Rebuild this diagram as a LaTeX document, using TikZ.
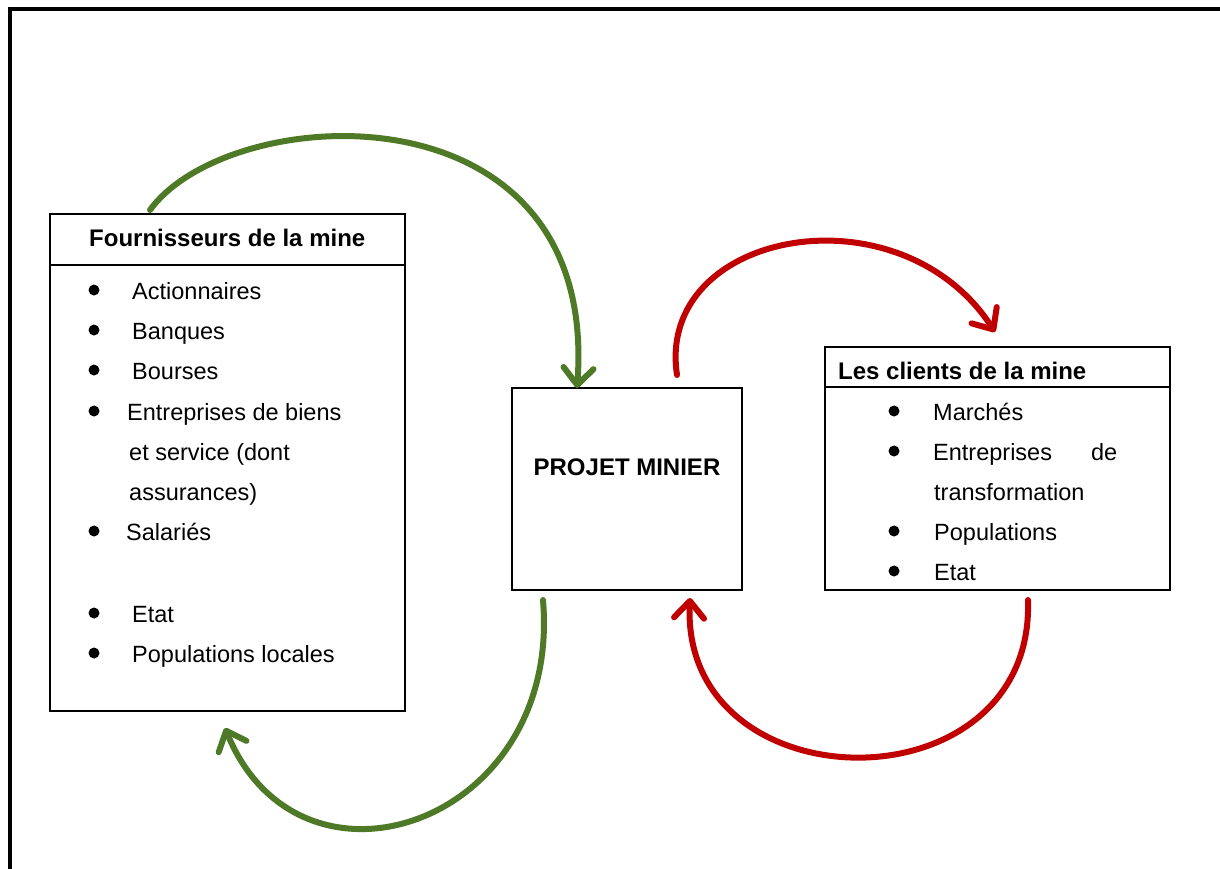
\documentclass[tikz,border=0pt]{standalone}
\usepackage{fontspec}
\setmainfont{Liberation Sans}
\usetikzlibrary{arrows.meta}
\definecolor{supplygreen}{HTML}{4E7A27}
\definecolor{clientred}{HTML}{C00000}
\begin{document}
\begin{tikzpicture}[x=1pt,y=-1pt,
  box/.style={draw=black,line width=2pt,rectangle,inner sep=0pt,outer sep=0pt},
  head/.style={font=\fontsize{24}{28}\selectfont\bfseries,anchor=base west,inner sep=0pt},
  item/.style={font=\fontsize{23.5}{28}\selectfont,anchor=base west,inner sep=0pt},
  dot/.style={circle,fill=black,inner sep=0pt,minimum size=11pt},
  flow/.style={line width=6pt,line cap=round,-{Straight Barb[length=17pt,width=30pt,round]}}
]
\useasboundingbox (0,0) rectangle (1220,868);
\clip (0,0) rectangle (1220,868);

% outer frame (only its top and left sides fall inside the page)
\draw[line width=4pt] (10,900) -- (10,9) -- (1250,9);

% boxes
\node[box,minimum width=355pt,minimum height=497pt] (four) at (227.5,462.5) {};
\node[box,minimum width=230pt,minimum height=202pt] (projet) at (627,489) {};
\node[box,minimum width=345pt,minimum height=243pt] (clients) at (997.5,468.5) {};
\draw[line width=2pt] (four.west |- 0,265) -- (four.east |- 0,265);
\draw[line width=2pt] (clients.west |- 0,387) -- (clients.east |- 0,387);

% headers
\node[head] (hfour) at (89,246) {Fournisseurs de la mine};
\node[head] (hcli) at (838,379) {Les clients de la mine};
\node[head,anchor=center] (hproj) at (627,467) {PROJET MINIER};

% suppliers list
\foreach \y in {290,330,370,411,531,613,653} \node[dot] at (94,\y) {};
\node[item] (s1) at (132,299) {Actionnaires};
\node[item] (s2) at (132,339) {Banques};
\node[item] (s3) at (132,379) {Bourses};
\node[item] (s4) at (127,420) {Entreprises de biens};
\node[item] (s5) at (129,460) {et service (dont};
\node[item] (s6) at (129,500) {assurances)};
\node[item] (s7) at (126,540) {Salariés};
\node[item] (s8) at (132,622) {Etat};
\node[item] (s9) at (132,662) {Populations locales};

% clients list
\foreach \y in {411,451,531,571} \node[dot] at (894,\y) {};
\node[item] (c1) at (933,420) {Marchés};
\node[item] (c2) at (933,460) {\hbox to 184pt{Entreprises\hfill de}};
\node[item] (c3) at (934,500) {transformation};
\node[item] (c4) at (934,540) {Populations};
\node[item] (c5) at (934,580) {Etat};

% connector end points
\coordinate (g1s) at (150,210);
\coordinate (g1e) at (577,388);
\coordinate (g2s) at (543,600);
\coordinate (g2e) at (225,728);
\coordinate (r1s) at (677,375);
\coordinate (r1e) at (995,332);
\coordinate (r2s) at (1028,600);
\coordinate (r2e) at (690,598);

% flows
\draw[flow,supplygreen] (g1s) .. controls (230,100) and (600,80) .. (g1e);
\draw[flow,supplygreen] (g2s) .. controls (562,825) and (300,912) .. (g2e);
\draw[flow,clientred] (r1s) .. controls (655,230) and (900,185) .. (r1e);
\draw[flow,clientred] (r2s) .. controls (1035,812) and (680,807) .. (r2e);
\end{tikzpicture}
\end{document}
